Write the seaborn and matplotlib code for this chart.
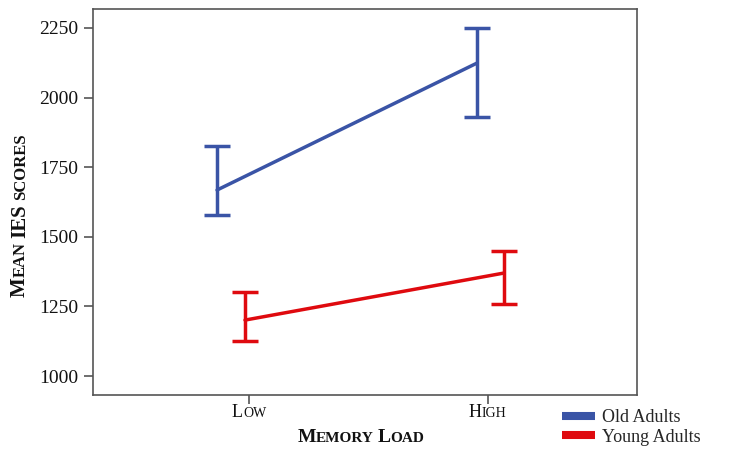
import numpy as np
import pandas as pd
import matplotlib
matplotlib.use('Agg')
import matplotlib.pyplot as plt
import seaborn as sns
from matplotlib.lines import Line2D
from matplotlib.transforms import IdentityTransform

# ----------------- data -----------------
loads = ['Low', 'High']
groups = ['Old Adults', 'Young Adults']
old_mean = [1668, 2124]
old_lower = [1578, 1930]
old_upper = [1826, 2250]
young_mean = [1201, 1370]
young_lower = [1126, 1259]
young_upper = [1302, 1449]
# horizontal offset of each point from its category tick
old_shift = [-0.134, -0.046]
young_shift = [-0.017, 0.067]

colors = {'Old Adults': '#3a54a6', 'Young Adults': '#df0a0f'}

rows = []
for g, m, lo, hi, sh in [('Old Adults', old_mean, old_lower, old_upper, old_shift),
                         ('Young Adults', young_mean, young_lower, young_upper, young_shift)]:
    for i, load in enumerate(loads):
        rows.append({'group': g, 'load': load, 'pos': i + sh[i], 'mean': m[i], 'lower': lo[i], 'upper': hi[i]})
df = pd.DataFrame(rows)

sns.set_style('white')
plt.rcParams['font.family'] = ['Liberation Serif', 'DejaVu Serif']

W, H = 741, 455
fig = plt.figure(figsize=(W / 100, H / 100), dpi=100)
ax = fig.add_axes([93 / W, 1 - 395 / H, (637 - 93) / W, (395 - 9) / H])

sns.lineplot(data=df, x='pos', y='mean', hue='group', palette=colors, linewidth=2.5,
             estimator=None, sort=False, errorbar=None, legend=False, ax=ax)
for g in groups:
    d = df[df['group'] == g]
    ax.errorbar(d['pos'], d['mean'], yerr=[d['mean'] - d['lower'], d['upper'] - d['mean']],
                fmt='none', ecolor=colors[g], elinewidth=2.5, capsize=9.5, capthick=2.5)

ax.set_xlim(-0.653, 1.623)
ax.set_ylim(932, 2318)
ax.set_yticks([1000, 1250, 1500, 1750, 2000, 2250])
ax.set_xticks([0, 1])
ax.set_xticklabels(['', ''])
ax.set_xlabel('')
ax.set_ylabel('')
ax.tick_params(axis='y', labelsize=14, colors='#111111')
ax.tick_params(length=6.5, width=1.2, color='#555555', pad=4, direction='out', left=True, bottom=True)
for sp in ax.spines.values():
    sp.set_color('#555555')
    sp.set_linewidth(1.2)

renderer = fig.canvas.get_renderer()


def small_caps(pieces, cx, cy, rotation=0, weight='normal'):
    # pieces: (text, size); text ' ' means a word gap. cx, cy in image pixels (y from top)
    texts, lens = [], []
    for s, sz in pieces:
        if s == ' ':
            texts.append(None)
            lens.append(0.25 * sz * 100 / 72)
            continue
        t = fig.text(0, 0, s, fontsize=sz, fontweight=weight, rotation=rotation,
                     rotation_mode='anchor', ha='left', va='baseline',
                     transform=IdentityTransform(), color='#111111')
        bb = t.get_window_extent(renderer)
        texts.append(t)
        lens.append(bb.height if rotation == 90 else bb.width)
    total = sum(lens)
    yd = H - cy
    if rotation == 90:
        pos = yd - total / 2
    else:
        pos = cx - total / 2
    for t, l in zip(texts, lens):
        if t is not None:
            t.set_position((cx, pos) if rotation == 90 else (pos, yd))
        pos += l


# tick labels
small_caps([('L', 13), ('OW', 10)], 249, 417)
small_caps([('H', 13), ('IGH', 10)], 487, 417)
# axis labels
small_caps([('M', 14), ('EMORY', 11), (' ', 11), ('L', 14), ('OAD', 11)], 361, 442, weight='bold')
small_caps([('M', 15), ('EAN', 12), (' ', 12), ('IES', 15), (' ', 12), ('SCORES', 12)], 25, 215,
           rotation=90, weight='bold')

handles = [Line2D([], [], color=colors[g], lw=5.8, solid_capstyle='butt') for g in groups]
fig.legend(handles, groups, loc='upper left', bbox_to_anchor=(562 / W, 1 - 409 / H),
           frameon=False, fontsize=13, handlelength=1.8, handletextpad=0.4,
           labelspacing=0.15, borderpad=0, borderaxespad=0)

fig.savefig('out.png', dpi=100)
